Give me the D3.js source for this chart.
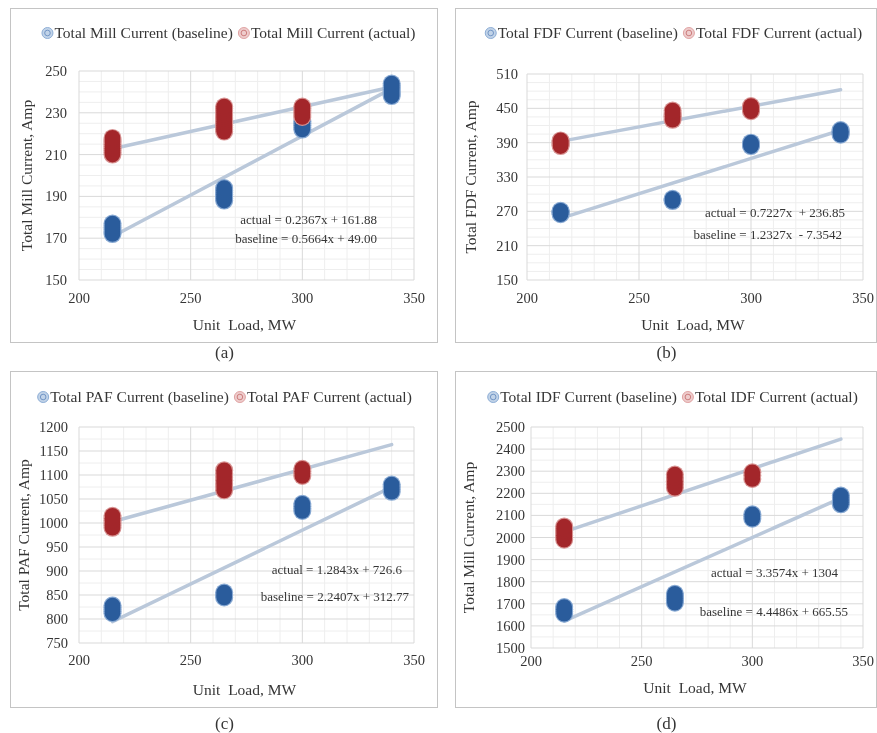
<!DOCTYPE html>
<html lang="en">
<head>
<meta charset="UTF-8">
<title>Fan and Mill Current vs Unit Load</title>
<style>
    body { margin: 0; background: #fff; }
    text { font-family: "Liberation Serif", "Times New Roman", serif; fill: #363636; }
</style>
</head>
<body>
<script src="https://d3js.org/d3.v7.min.js"></script>
<script>
    // unit load of each measured cluster (MW)
    let loads = [215, 265, 300, 340];
    let xTicks = [200, 250, 300, 350];

    // readings per load cluster, Amp (empty = no readings)
    let millBaseline = [[172, 173, 174, 175, 176, 177], [188, 189, 190, 191, 192, 193, 194], [222, 223, 224, 225, 226], [238, 239, 240, 241, 242, 243, 244]];
    let millActual = [[210, 211, 212, 213, 214, 215, 216, 217, 218], [221, 222, 223, 224, 225, 226, 227, 228, 229, 230, 231, 232, 233], [228, 229, 230, 231, 232, 233], []];
    let fdfBaseline = [[265, 267, 268, 270, 271], [288, 290, 292], [384, 386, 388, 390], [404, 406, 408, 410, 412]];
    let fdfActual = [[384, 386, 388, 390, 392, 394], [430, 433, 436, 439, 442, 446], [445, 448, 451, 454], []];
    let pafBaseline = [[812, 816, 820, 824, 828], [845, 850, 855], [1025, 1030, 1035, 1040], [1065, 1070, 1075, 1080]];
    let pafActual = [[990, 995, 1000, 1005, 1010, 1015], [1068, 1075, 1082, 1089, 1096, 1103, 1110], [1098, 1103, 1108, 1113], []];
    let idfBaseline = [[1655, 1665, 1675, 1685], [1705, 1715, 1725, 1735, 1745], [2085, 2095, 2105], [2150, 2160, 2170, 2180, 2190]];
    let idfActual = [[1990, 2000, 2010, 2020, 2030, 2040, 2050], [2225, 2240, 2255, 2270, 2285], [2265, 2280, 2295], []];

    // linear trend [slope, intercept]
    let millTrend = {actual: [0.2367, 161.88], baseline: [0.5664, 49.00]};
    let fdfTrend = {actual: [0.7227, 236.85], baseline: [1.2327, -7.3542]};
    let pafTrend = {actual: [1.2843, 726.6], baseline: [2.2407, 312.77]};
    let idfTrend = {actual: [3.3574, 1304], baseline: [4.4486, 665.55]};

    let millEq = ["actual = 0.2367x + 161.88", "baseline = 0.5664x + 49.00"];
    let fdfEq = ["actual = 0.7227x  + 236.85", "baseline = 1.2327x  - 7.3542"];
    let pafEq = ["actual = 1.2843x + 726.6", "baseline = 2.2407x + 312.77"];
    let idfEq = ["actual = 3.3574x + 1304", "baseline = 4.4486x + 665.55"];

    let millTicks = [150, 170, 190, 210, 230, 250];
    let fdfTicks = [150, 210, 270, 330, 390, 450, 510];
    let pafTicks = [750, 800, 850, 900, 950, 1000, 1050, 1100, 1150, 1200];
    let idfTicks = [1500, 1600, 1700, 1800, 1900, 2000, 2100, 2200, 2300, 2400, 2500];

    const BLUE = "#2c5c9c", BLUE_EDGE = "#86a8d2";
    const RED = "#a3282a", RED_EDGE = "#d79292";
    const TREND = "#bac8da";

    let panels = [
        {
            tag: "(a)", name: "Mill", yTitle: "Total Mill Current, Amp",
            base: millBaseline, act: millActual, trend: millTrend, eq: millEq, yTicks: millTicks, yMinor: 4,
            box: [10, 8, 437, 342], plot: [79, 71, 414, 280], legendY: 33, legendX: 229, yTitleX: 27, yLabR: 67,
            xLabY: 298, xTitleY: 325, tagY: 352, eqPos: [[377, 220], [377, 239]]
        },
        {
            tag: "(b)", name: "FDF", yTitle: "Total FDF Current, Amp",
            base: fdfBaseline, act: fdfActual, trend: fdfTrend, eq: fdfEq, yTicks: fdfTicks, yMinor: 4,
            box: [455, 8, 876, 342], plot: [527, 74, 863, 280], legendY: 33, legendX: 674, yTitleX: 471, yLabR: 518,
            xLabY: 298, xTitleY: 325, tagY: 352, eqPos: [[845, 213], [842, 235]]
        },
        {
            tag: "(c)", name: "PAF", yTitle: "Total PAF Current, Amp",
            base: pafBaseline, act: pafActual, trend: pafTrend, eq: pafEq, yTicks: pafTicks, yMinor: 2,
            box: [10, 371, 437, 707], plot: [79, 427, 414, 643], legendY: 397, legendX: 225, yTitleX: 24, yLabR: 68,
            xLabY: 660, xTitleY: 690, tagY: 723, eqPos: [[402, 570], [409, 597]]
        },
        {
            tag: "(d)", name: "IDF", yTitle: "Total Mill Current, Amp",
            base: idfBaseline, act: idfActual, trend: idfTrend, eq: idfEq, yTicks: idfTicks, yMinor: 2,
            box: [455, 371, 876, 707], plot: [531, 427, 863, 648], legendY: 397, legendX: 673, yTitleX: 469, yLabR: 525,
            xLabY: 661, xTitleY: 688, tagY: 723, eqPos: [[838, 573], [848, 612]]
        }
    ];

    let svg = d3.select("body")
        .append("svg")
        .attr("width", 877)
        .attr("height", 733);

    // the source figure is a soft scan
    svg.append("defs").append("filter")
        .attr("id", "soft")
        .append("feGaussianBlur")
        .attr("stdDeviation", 0.45);

    let root = svg.append("g").attr("filter", "url(#soft)");

    function toPoints(arr) {
        let pts = [];
        for (let i = 0; i < loads.length; ++i) {
            for (let j = 0; j < arr[i].length; ++j) {
                pts.push({x: loads[i], y: arr[i][j]});
            }
        }
        return pts;
    }

    function drawPanel(p) {
        let g = root.append("g");
        let yDom = [p.yTicks[0], p.yTicks[p.yTicks.length - 1]];
        let x = d3.scaleLinear().domain([200, 350]).range([p.plot[0], p.plot[2]]);
        let y = d3.scaleLinear().domain(yDom).range([p.plot[3], p.plot[1]]);

        // chart frame
        g.append("rect")
            .attr("x", p.box[0] + 0.5).attr("y", p.box[1] + 0.5)
            .attr("width", p.box[2] - p.box[0]).attr("height", p.box[3] - p.box[1])
            .attr("fill", "#fff")
            .attr("stroke", "#c4c4c4");

        // minor grid
        let yStep = p.yTicks[1] - p.yTicks[0];
        let yMinorVals = d3.range(yDom[0], yDom[1], yStep / p.yMinor).filter(v => (v - yDom[0]) % yStep !== 0);
        let xMinorVals = d3.range(200, 350, 10).filter(v => v % 50 !== 0);
        g.append("g").selectAll("line").data(yMinorVals).enter().append("line")
            .attr("x1", p.plot[0]).attr("x2", p.plot[2])
            .attr("y1", d => y(d)).attr("y2", d => y(d))
            .attr("stroke", "#eeeeee");
        g.append("g").selectAll("line").data(xMinorVals).enter().append("line")
            .attr("y1", p.plot[1]).attr("y2", p.plot[3])
            .attr("x1", d => x(d)).attr("x2", d => x(d))
            .attr("stroke", "#eeeeee");

        // major grid
        g.append("g").selectAll("line").data(p.yTicks).enter().append("line")
            .attr("x1", p.plot[0]).attr("x2", p.plot[2])
            .attr("y1", d => y(d)).attr("y2", d => y(d))
            .attr("stroke", "#d9d9d9");
        g.append("g").selectAll("line").data(xTicks).enter().append("line")
            .attr("y1", p.plot[1]).attr("y2", p.plot[3])
            .attr("x1", d => x(d)).attr("x2", d => x(d))
            .attr("stroke", "#d9d9d9");

        // tick labels
        g.append("g").selectAll("text").data(p.yTicks).enter().append("text")
            .attr("x", p.yLabR)
            .attr("y", d => y(d) + 5)
            .attr("text-anchor", "end")
            .style("font-size", "14.5px")
            .text(d => d);
        g.append("g").selectAll("text").data(xTicks).enter().append("text")
            .attr("x", d => x(d))
            .attr("y", p.xLabY + 5)
            .attr("text-anchor", "middle")
            .style("font-size", "14.5px")
            .text(d => d);

        // axis titles
        g.append("text")
            .attr("x", (p.plot[0] + p.plot[2]) / 2 - 2)
            .attr("y", p.xTitleY + 5)
            .attr("text-anchor", "middle")
            .style("font-size", "15.5px")
            .style("white-space", "pre")
            .text("Unit  Load, MW");
        g.append("text")
            .attr("transform", "translate(" + (p.yTitleX + 5) + "," + ((p.plot[1] + p.plot[3]) / 2) + ") rotate(-90)")
            .attr("text-anchor", "middle")
            .style("font-size", "15.5px")
            .text(p.yTitle);

        // trend lines
        let line = d3.line().x(d => x(d[0])).y(d => y(d[1]));
        ["actual", "baseline"].forEach(function (k) {
            let t = p.trend[k];
            let ends = [loads[0], loads[loads.length - 1]].map(v => [v, t[0] * v + t[1]]);
            g.append("path")
                .attr("d", line(ends))
                .attr("fill", "none")
                .attr("stroke", TREND)
                .attr("stroke-width", 3.5)
                .attr("stroke-linecap", "round");
        });

        // markers: light rim underneath, solid body on top so each cluster reads as one blob
        let series = [[p.base, BLUE, BLUE_EDGE], [p.act, RED, RED_EDGE]];
        series.forEach(function (s) {
            let pts = toPoints(s[0]);
            let mg = g.append("g");
            mg.selectAll("circle.rim").data(pts).enter().append("circle")
                .attr("class", "rim")
                .attr("cx", d => x(d.x))
                .attr("cy", d => y(d.y))
                .attr("r", 9)
                .attr("fill", s[2]);
            mg.selectAll("circle.body").data(pts).enter().append("circle")
                .attr("class", "body")
                .attr("cx", d => x(d.x))
                .attr("cy", d => y(d.y))
                .attr("r", 7.8)
                .attr("fill", s[1]);
        });

        // equations
        g.append("g").selectAll("text").data(p.eq).enter().append("text")
            .attr("x", (d, i) => p.eqPos[i][0])
            .attr("y", (d, i) => p.eqPos[i][1] + 4)
            .attr("text-anchor", "end")
            .style("font-size", "13px")
            .style("white-space", "pre")
            .text(d => d);

        // legend
        let leg = g.append("g");
        let items = [["Total " + p.name + " Current (baseline)", "#8eaed6", "#5f86bd"],
            ["Total " + p.name + " Current (actual)", "#e0a3a3", "#c46a6a"]];
        let cx = 0;
        items.forEach(function (it, i) {
            let item = leg.append("g").attr("transform", "translate(" + cx + ",0)");
            item.append("circle").attr("cx", 5).attr("cy", 0).attr("r", 5.5)
                .attr("fill", it[1]).attr("fill-opacity", 0.55).attr("stroke", it[1]);
            item.append("circle").attr("cx", 5).attr("cy", 0).attr("r", 2.8)
                .attr("fill", "none").attr("stroke", it[2]).attr("stroke-width", 0.8);
            let t = item.append("text")
                .attr("x", 12)
                .attr("y", 5)
                .style("font-size", "15.5px")
                .text(it[0]);
            cx += 12 + t.node().getComputedTextLength() + 6;
        });
        leg.attr("transform", "translate(" + (p.legendX - (cx - 6) / 2) + "," + p.legendY + ")");

        // panel tag
        root.append("text")
            .attr("x", (p.box[0] + p.box[2]) / 2 + 1)
            .attr("y", p.tagY + 6)
            .attr("text-anchor", "middle")
            .style("font-size", "17px")
            .text(p.tag);
    }

    panels.forEach(drawPanel);
</script>
</body>
</html>
